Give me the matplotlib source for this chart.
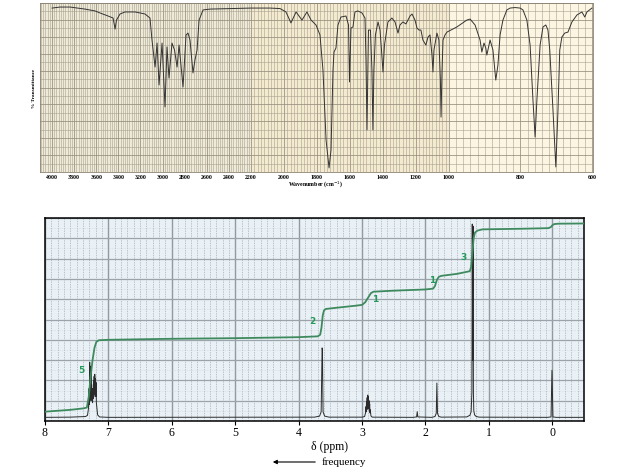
#!/usr/bin/env python3
"""IR spectrum (top) and 1H NMR spectrum with integration (bottom)."""

import numpy as np
from matplotlib import pyplot as plot
from matplotlib.patches import FancyArrowPatch
from matplotlib.ticker import FixedLocator, MultipleLocator, NullFormatter

plot.rcParams['font.family'] = ['Liberation Serif', 'DejaVu Serif']

# --- IR data: wavenumber (cm-1) and % transmittance -----------------------
ir_wavenumber = [4000, 3928, 3837, 3702, 3611, 3566, 3493, 3448, 3430, 3417,
                 3385, 3340, 3249, 3159, 3114, 3096, 3086, 3068, 3050, 3032,
                 3005, 2978, 2960, 2942, 2915, 2892, 2869, 2851, 2815, 2788,
                 2770, 2752, 2725, 2707, 2688, 2670, 2634, 2571, 2390, 2200,
                 2085, 2024, 1988, 1958, 1927, 1891, 1861, 1836, 1806, 1782,
                 1764, 1745, 1727, 1715, 1703, 1697, 1685, 1673, 1655, 1624,
                 1609, 1603, 1594, 1582, 1570, 1552, 1527, 1509, 1503, 1497,
                 1488, 1476, 1467, 1461, 1455, 1446, 1430, 1418, 1409, 1400,
                 1391, 1382, 1370, 1358, 1346, 1327, 1309, 1297, 1279, 1261,
                 1236, 1224, 1206, 1194, 1182, 1170, 1158, 1140, 1127, 1115,
                 1103, 1097, 1091, 1073, 1061, 1052, 1048, 1042, 1036, 1024,
                 1012, 1000, 978, 950, 941, 927, 913, 908, 902, 897,
                 894, 885, 877, 869, 863, 857, 849, 838, 829, 815,
                 801, 793, 782, 773, 765, 759, 754, 745, 737, 729,
                 723, 718, 709, 701, 695, 690, 684, 676, 667, 656,
                 642, 628, 620, 614, 600]
ir_transmittance = [97.0, 97.6, 97.6, 96.4, 95.3, 94.1, 92.3, 91.1, 84.6, 89.9,
                    93.5, 94.7, 94.7, 93.5, 91.1, 78.1, 72.2, 62.1, 76.3, 51.5,
                    76.3, 38.5, 74.0, 55.6, 76.3, 72.2, 62.1, 75.1, 50.3, 81.1,
                    82.2, 78.1, 58.6, 66.3, 72.2, 89.9, 95.9, 96.4, 96.7, 97.0,
                    97.0, 96.7, 94.7, 88.2, 94.7, 89.9, 94.7, 89.9, 87.0, 81.1,
                    60.4, 18.9, 2.4, 13.0, 60.4, 71.0, 73.4, 87.0, 91.7, 92.3,
                    87.0, 53.3, 85.2, 85.8, 94.7, 95.3, 94.1, 91.1, 66.3, 24.9,
                    84.0, 84.0, 60.4, 24.9, 60.4, 81.1, 88.8, 84.0, 72.2, 59.2,
                    75.1, 81.1, 88.8, 89.9, 91.1, 88.8, 82.2, 87.0, 88.8, 87.6,
                    92.3, 93.5, 89.9, 85.2, 84.0, 84.0, 78.1, 75.1, 79.9, 81.1,
                    69.2, 59.2, 72.2, 82.2, 78.1, 54.4, 32.5, 60.4, 78.1, 81.1,
                    82.8, 83.4, 85.8, 89.9, 90.5, 87.0, 78.1, 71.0, 76.3, 73.4,
                    69.2, 78.1, 72.2, 54.4, 63.3, 81.1, 89.9, 95.9, 97.0, 97.3,
                    97.0, 95.9, 89.9, 75.1, 42.6, 20.7, 42.6, 75.1, 85.8, 87.0,
                    84.0, 72.2, 36.7, 3.0, 36.7, 72.2, 79.9, 82.2, 82.8, 88.8,
                    92.9, 94.7, 91.7, 94.7, 97.0]
ir_ticks = [4000, 3800, 3600, 3400, 3200, 3000, 2800, 2600, 2400, 2200,
            2000, 1800, 1600, 1400, 1200, 1000, 800, 600]

# --- NMR data: chemical shift (ppm) and signal / integral height -----------
nmr_shift = [8.0, 7.6, 7.36, 7.33, 7.315, 7.305, 7.30, 7.295, 7.29, 7.285,
             7.28, 7.275, 7.27, 7.265, 7.26, 7.255, 7.25, 7.245, 7.24, 7.235,
             7.23, 7.225, 7.22, 7.215, 7.21, 7.205, 7.20, 7.195, 7.19, 7.18,
             7.17, 7.14, 7.0, 3.75, 3.67, 3.645, 3.63, 3.625, 3.615, 3.59,
             3.52, 3.0, 2.96, 2.945, 2.94, 2.935, 2.93, 2.925, 2.92, 2.915,
             2.91, 2.905, 2.90, 2.895, 2.89, 2.885, 2.88, 2.875, 2.87, 2.86,
             2.84, 2.2, 2.14, 2.13, 2.12, 1.9, 1.85, 1.83, 1.82, 1.81,
             1.79, 1.75, 1.35, 1.30, 1.28, 1.268, 1.262, 1.256, 1.25, 1.244,
             1.238, 1.225, 1.20, 1.15, 0.08, 0.02, 0.005, -0.01, -0.06, -0.5]
nmr_signal = [0.18, 0.19, 0.22, 0.28, 0.6, 1.6, 0.8, 2.9, 1.0, 2.7,
              1.1, 2.5, 1.2, 1.8, 1.0, 1.6, 0.9, 1.3, 1.1, 2.0,
              1.2, 2.2, 1.4, 2.3, 1.3, 2.1, 1.2, 1.9, 0.9, 0.6,
              0.3, 0.2, 0.18, 0.19, 0.24, 0.45, 3.6, 3.5, 0.45, 0.24,
              0.19, 0.19, 0.22, 0.4, 0.7, 0.45, 0.95, 0.55, 1.15, 0.6,
              1.28, 0.65, 1.2, 0.6, 1.0, 0.5, 0.85, 0.4, 0.55, 0.25,
              0.19, 0.18, 0.2, 0.46, 0.2, 0.18, 0.22, 0.38, 1.87, 0.38,
              0.22, 0.19, 0.2, 0.28, 0.45, 1.4, 9.7, 3.0, 9.6, 1.4,
              0.5, 0.3, 0.22, 0.19, 0.18, 0.2, 2.5, 0.2, 0.18, 0.18]

integral_shift = [8.0, 7.6, 7.4, 7.34, 7.31, 7.28, 7.25, 7.22, 7.19, 7.15,
                  7.0, 6.0, 5.0, 4.0, 3.7, 3.66, 3.64, 3.62, 3.60, 3.57,
                  3.4, 3.1, 3.0, 2.95, 2.90, 2.86, 2.82, 2.5, 2.0, 1.88,
                  1.85, 1.82, 1.79, 1.75, 1.5, 1.30, 1.28, 1.26, 1.24, 1.22,
                  1.18, 1.10, 0.5, 0.06, 0.02, 0.0, -0.03, -0.1, -0.5]
integral_height = [0.46, 0.55, 0.62, 0.66, 1.2, 2.2, 3.0, 3.6, 3.9, 3.98,
                   4.0, 4.05, 4.08, 4.13, 4.17, 4.25, 4.6, 5.2, 5.45, 5.52,
                   5.58, 5.68, 5.72, 5.85, 6.1, 6.3, 6.37, 6.42, 6.48, 6.52,
                   6.65, 6.95, 7.1, 7.15, 7.25, 7.38, 7.6, 8.3, 9.0, 9.28,
                   9.38, 9.44, 9.47, 9.5, 9.56, 9.64, 9.7, 9.72, 9.73]

integral_labels = ['5', '2', '1', '1', '3']
label_shift = [7.43, 3.78, 2.80, 1.89, 1.40]
label_height = [2.47, 4.89, 6.0, 6.9, 8.06]
nmr_ticks = [8, 7, 6, 5, 4, 3, 2, 1, 0]

# IR chart paper: three linear sections with different cm-1 per millimetre
IR_BREAKS = [0, 1000, 2200, 5000]
IR_LENGTH = [0, 357.5, 555.5, 865.1]


def ir_forward(w):
    return np.interp(w, IR_BREAKS, IR_LENGTH)


def ir_inverse(p):
    return np.interp(p, IR_LENGTH, IR_BREAKS)


def draw_ir(fig):
    ax = fig.add_axes([40 / 623, 1 - 172 / 474, 553 / 623, 169 / 474])
    ax.set_xscale('function', functions=(ir_forward, ir_inverse))
    ax.set_xlim(4109, 597)
    ax.set_ylim(0, 100)

    # paper tint per section
    ax.axvspan(4109, 2200, color='#efe9d8', lw=0, zorder=0)
    ax.axvspan(2200, 1000, color='#f4eacf', lw=0, zorder=0)
    ax.axvspan(1000, 597, color='#fcf5e1', lw=0, zorder=0)

    ax.xaxis.set_major_locator(FixedLocator(ir_ticks))
    ax.xaxis.set_minor_locator(MultipleLocator(20))
    ax.yaxis.set_major_locator(MultipleLocator(10))
    ax.yaxis.set_minor_locator(MultipleLocator(5))
    ax.grid(True, which='major', color='#958d7c', lw=0.55, zorder=1)
    ax.grid(True, which='minor', color='#a59e8e', lw=0.38, zorder=1)
    ax.set_axisbelow(True)

    ax.plot(ir_wavenumber, ir_transmittance, color='#333333', lw=0.7, zorder=5)

    ax.set_xticklabels([str(t) for t in ir_ticks], fontsize=4.2, fontweight='bold')
    ax.yaxis.set_major_formatter(NullFormatter())
    ax.tick_params(axis='both', which='both', length=0, pad=2)
    for side in ax.spines.values():
        side.set_color('#8a8272')
        side.set_linewidth(0.6)

    fig.text(316 / 623, 1 - 184 / 474, 'Wavenumber (cm$^{-1}$)', ha='center', va='center',
             fontsize=4.2, fontweight='bold')
    fig.text(34 / 623, 1 - 88 / 474, '% Transmittance', ha='center', va='center',
             rotation=90, fontsize=3.8, fontweight='bold')


def draw_nmr(fig):
    ax = fig.add_axes([45 / 623, 1 - 421 / 474, 539 / 623, 203 / 474])
    ax.set_facecolor('#e9f1f6')
    ax.set_xlim(8, -0.5)
    ax.set_ylim(0, 10)

    ax.xaxis.set_major_locator(FixedLocator(nmr_ticks))
    ax.xaxis.set_minor_locator(MultipleLocator(0.1))
    ax.yaxis.set_major_locator(MultipleLocator(1))
    ax.yaxis.set_minor_locator(MultipleLocator(0.5))
    ax.grid(True, axis='x', which='major', color='#8f9aa1', lw=1.0)
    ax.grid(True, axis='y', which='major', color='#9aa4aa', lw=0.9)
    ax.grid(True, axis='x', which='minor', color='#a6b0b6', lw=0.5, ls=(0, (2, 1.5)))
    ax.grid(True, axis='y', which='minor', color='#c2cbd0', lw=0.4, ls=(0, (1, 2)))
    ax.set_axisbelow(True)

    ax.plot(nmr_shift, nmr_signal, color='#2b2b2b', lw=0.7, zorder=5)
    ax.plot(integral_shift, integral_height, color='#3e8a5e', lw=1.3, zorder=6)
    for text, x, y in zip(integral_labels, label_shift, label_height):
        ax.text(x, y, text, color='#23995a', fontsize=6.5, fontweight='bold',
                family='DejaVu Sans', ha='center', va='center', zorder=7)

    ax.set_xticklabels([str(t) for t in nmr_ticks], fontsize=8.5)
    ax.yaxis.set_major_formatter(NullFormatter())
    ax.tick_params(axis='x', which='major', length=3, width=0.8, direction='out', pad=1.5)
    ax.tick_params(axis='x', which='minor', length=0)
    ax.tick_params(axis='y', which='both', length=0)
    for side in ax.spines.values():
        side.set_color('black')
        side.set_linewidth(1.1)

    fig.text(330 / 623, 1 - 447 / 474, 'δ (ppm)', ha='center', va='center', fontsize=8.5)
    fig.text(322 / 623, 1 - 462 / 474, 'frequency', ha='left', va='center', fontsize=8)
    fig.patches.append(FancyArrowPatch(
        (318 / 623, 1 - 462 / 474), (270 / 623, 1 - 462 / 474), transform=fig.transFigure,
        arrowstyle='-|>', mutation_scale=6, color='black', lw=0.8))


def main():
    fig = plot.figure(figsize=(6.23, 4.74), dpi=100)
    fig.set_facecolor('white')
    draw_ir(fig)
    draw_nmr(fig)
    fig.savefig('out.png', dpi=100)


if __name__ == '__main__':
    main()
